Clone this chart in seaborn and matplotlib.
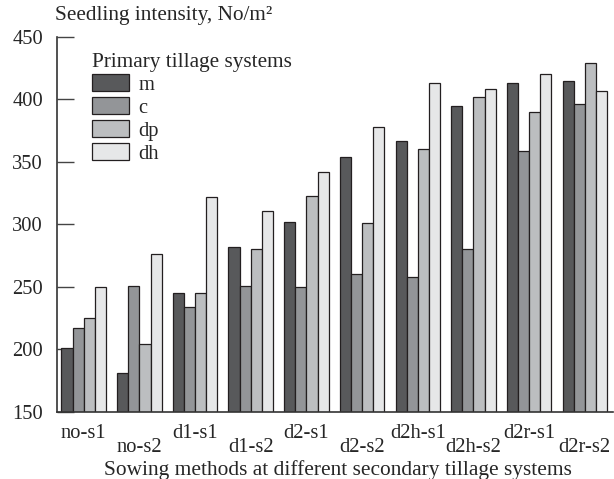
import matplotlib
matplotlib.use("Agg")
import matplotlib.pyplot as plt
import seaborn as sns
import pandas as pd

# Sowing method / secondary tillage combinations
methods = ["no-s1", "no-s2", "d1-s1", "d1-s2", "d2-s1",
           "d2-s2", "d2h-s1", "d2h-s2", "d2r-s1", "d2r-s2"]

# Primary tillage systems
systems = ["m", "c", "dp", "dh"]

# Seedling intensity, No/m2, per primary tillage system
m_vals = [201, 181, 245, 282, 302, 354, 367, 395, 413, 415]
c_vals = [217, 251, 234, 251, 250, 260, 258, 280, 359, 396]
dp_vals = [225, 204, 245, 280, 323, 301, 360, 402, 390, 429]
dh_vals = [250, 276, 322, 311, 342, 378, 413, 408, 420, 407]

y_ticks = [150, 200, 250, 300, 350, 400, 450]

colors = ["#58595b", "#939598", "#bcbec0", "#e6e7e8"]

rows = []
for sys_name, vals in zip(systems, [m_vals, c_vals, dp_vals, dh_vals]):
    for meth, v in zip(methods, vals):
        rows.append({"method": meth, "system": sys_name, "value": v})
df = pd.DataFrame(rows)

sns.set_style("ticks")
plt.rcParams["font.family"] = ["Liberation Serif", "DejaVu Serif"]

fs = 14.8
fig = plt.figure(figsize=(6.14, 4.79), dpi=100)
ax = fig.add_axes([0.0928, 0.140, 0.905, 0.783])

sns.barplot(data=df, x="method", y="value", hue="system",
            order=methods, hue_order=systems, palette=colors,
            saturation=1, width=0.8, edgecolor="#231f20", linewidth=0.9,
            ax=ax)

ax.set_ylim(150, 450)
ax.set_xlim(-0.48, 9.5)
ax.set_yticks(y_ticks)
ax.set_yticklabels([str(t) for t in y_ticks], fontsize=fs)
ax.tick_params(axis="y", direction="in", length=12, width=1.0,
               color="#444444", pad=10)
ax.tick_params(axis="x", length=0, pad=9, labelsize=fs)
ax.set_ylabel("")

for sp in ["top", "right"]:
    ax.spines[sp].set_visible(False)
for sp in ["left", "bottom"]:
    ax.spines[sp].set_color("#333333")
    ax.spines[sp].set_linewidth(1.2)

# stagger the category labels so neighbouring labels do not collide
for i, lab in enumerate(ax.get_xticklabels()):
    if i % 2 == 1:
        lab.set_y(-0.036)

ax.set_xlabel("Sowing methods at different secondary tillage systems",
              fontsize=15.4)
ax.xaxis.set_label_coords(0.505, -0.128)

fig.text(55 / 614, 1 - 6 / 479, "Seedling intensity, No/m²",
         fontsize=15.3, ha="left", va="top")

ax.legend_.remove()
handles, labels = ax.get_legend_handles_labels()
leg = ax.legend(handles, labels, title="Primary tillage systems",
                loc="upper left", bbox_to_anchor=(0.063, 0.958),
                frameon=False, fontsize=fs, title_fontsize=15.3,
                handlelength=1.8, handleheight=0.95, handletextpad=0.45,
                labelspacing=0.1, borderpad=0, borderaxespad=0,
                alignment="left")

fig.savefig("out.png", dpi=100)
